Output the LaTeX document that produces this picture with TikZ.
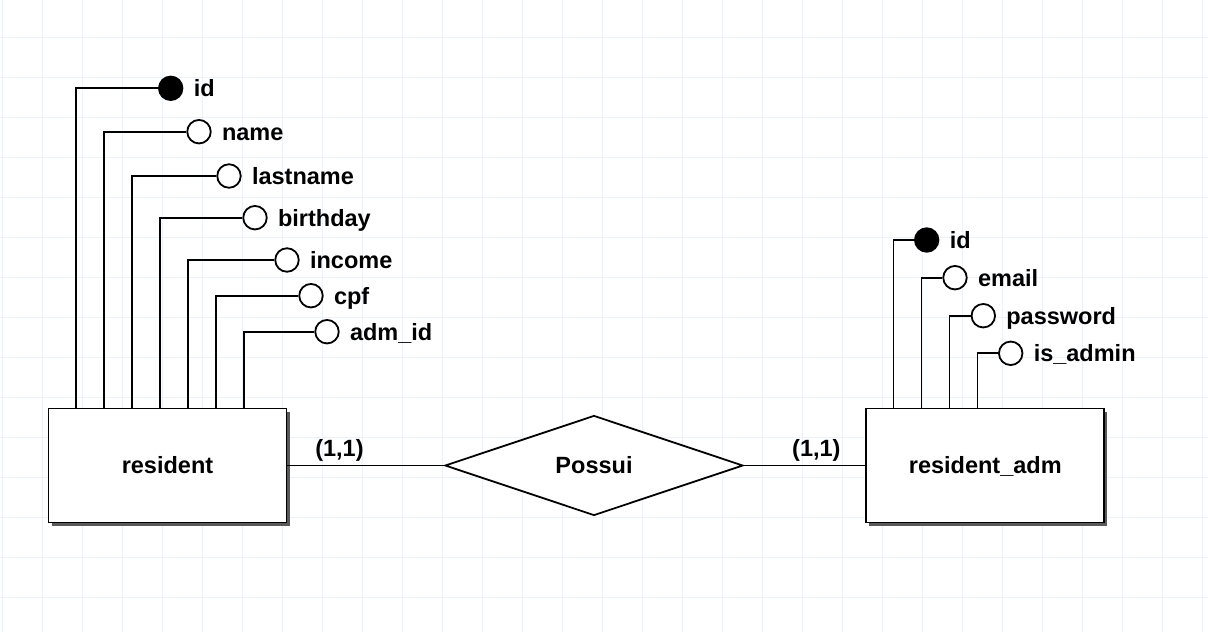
\documentclass[tikz,border=0pt]{standalone}
\usepackage{fontspec}
\setmainfont{Liberation Sans}
\usetikzlibrary{positioning,shapes.geometric,shadows}
\definecolor{gridblue}{RGB}{236,242,250}

\begin{document}
\begin{tikzpicture}[x=1pt,y=-1pt,line width=1.8pt,
  font=\fontsize{23.5}{28}\selectfont\bfseries,
  entity/.style={draw,fill=white,minimum width=238pt,minimum height=114pt,
    text height=16.8pt,text depth=0pt,
    drop shadow={shadow xshift=3pt,shadow yshift=-3pt,fill=black!65,opacity=1}},
  rel/.style={draw,diamond,fill=white,minimum width=298pt,minimum height=100pt,
    inner sep=0pt,text height=16.8pt,text depth=0pt},
  attr/.style={draw,circle,fill=white,minimum size=23.5pt,inner sep=0pt},
  key/.style={attr,fill=black},
  attrtext/.style={right=9.5pt of #1,inner sep=0pt,text height=16.8pt,text depth=0pt},
  card/.style={inner sep=0pt}]
\useasboundingbox (0,0) rectangle (1208,632);
\foreach \gx in {0,...,30}
  \draw [gridblue,line width=1.3pt] (2.3+40*\gx,0) -- (2.3+40*\gx,632);
\foreach \gy in {0,...,14}
  \draw [gridblue,line width=1.3pt] (0,37.7+40*\gy) -- (1208,37.7+40*\gy);

\node [entity] (resident) at (167.5,465.5) {resident};
\node [entity] (residentadm) at (985.3,465.5) {resident\_adm};
\node [rel] (possui) at (594,465.5) {Possui};

\node [key] (rid) at (170.7,88.3) {};
\node [attr] (rname) at (199,131.7) {};
\node [attr] (rlastname) at (229,176) {};
\node [attr] (rbirthday) at (255,217.7) {};
\node [attr] (rincome) at (287,260) {};
\node [attr] (rcpf) at (311,295.7) {};
\node [attr] (radmid) at (327,331.7) {};
\node [attrtext=rid] (ridt) {id};
\node [attrtext=rname] (rnamet) {name};
\node [attrtext=rlastname] (rlastnamet) {lastname};
\node [attrtext=rbirthday] (rbirthdayt) {birthday};
\node [attrtext=rincome] (rincomet) {income};
\node [attrtext=rcpf] (rcpft) {cpf};
\node [attrtext=radmid] (radmidt) {adm\_id};
\foreach \a/\k in {rid/1,rname/2,rlastname/3,rbirthday/4,rincome/5,rcpf/6,radmid/7}
  \draw (\a.west) -| ([xshift=\k*28pt]resident.north west);

\node [key] (aid) at (926.7,240) {};
\node [attr] (aemail) at (955,277.7) {};
\node [attr] (apassword) at (983.3,315.7) {};
\node [attr] (aisadmin) at (1010.7,353.3) {};
\node [attrtext=aid] (aidt) {id};
\node [attrtext=aemail] (aemailt) {email};
\node [attrtext=apassword] (apasswordt) {password};
\node [attrtext=aisadmin] (aisadmint) {is\_admin};
\foreach \a/\k in {aid/1,aemail/2,apassword/3,aisadmin/4}
  \draw (\a.west) -| ([xshift=\k*28pt]residentadm.north west);

\draw (resident.east) -- (possui.west);
\draw (possui.east) -- (residentadm.west);
\node [card,anchor=base west] (card1) at ([xshift=27pt,yshift=9pt]resident.east) {(1,1)};
\node [card,anchor=base east] (card2) at ([xshift=-24pt,yshift=9pt]residentadm.west) {(1,1)};
\end{tikzpicture}
\end{document}
